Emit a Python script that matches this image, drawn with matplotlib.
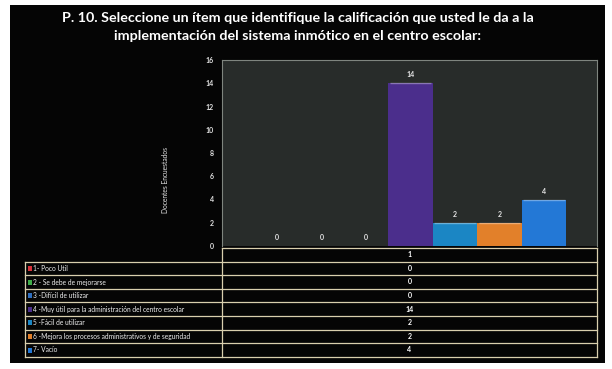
import matplotlib
matplotlib.use('Agg')
import matplotlib.pyplot as plt
from matplotlib.patches import Rectangle

plt.rcParams['font.family'] = ['Lato', 'DejaVu Sans']

titulo = ('P. 10. Seleccione un ítem que identifique la calificación que usted le da a la\n'
          'implementación del sistema inmótico en el centro escolar:')
categorias = ['1- Poco Util',
              '2 - Se debe de mejorarse',
              '3 -Difícil de utilizar',
              '4 -Muy útil para la administración del centro escolar',
              '5 -Fácil de utilizar',
              '6 -Mejora los procesos administrativos y de seguridad',
              '7- Vacío']
valores = [0, 0, 0, 14, 2, 2, 4]
colores = ['#d8323a', '#3fae49', '#2f6fc0', '#4b2e8c', '#1b86c4', '#e2802a', '#2378d6']
grupo = '1'
eje_y = 'Docentes Encuestados'

W, H = 612, 369
fig = plt.figure(figsize=(W / 100, H / 100), dpi=100, facecolor='white')

# lienzo en pixeles para fondo, titulo y tabla
bg = fig.add_axes([0, 0, 1, 1])
bg.set_xlim(0, W)
bg.set_ylim(H, 0)
bg.axis('off')
bg.add_patch(Rectangle((10, 5), 595, 358, facecolor='#050505', edgecolor='none'))

bg.text(298, 27, titulo, ha='center', va='center', color='white',
        fontsize=10.3, fontweight='bold', linespacing=1.5)
bg.text(165, 180, eje_y, rotation=90, ha='center', va='center',
        color='#e8e8e8', fontsize=4.8)

# tabla de datos debajo del grafico
lineas = '#d9cfae'
x0, xm, x1 = 25, 222, 597
y_top, fila = 248, 13.6
filas = len(categorias) + 1
for i in range(filas + 1):
    y = y_top + i * fila
    bg.plot([x0 if i >= 1 else xm, x1], [y, y], color=lineas, lw=0.9)
bg.plot([xm, xm], [y_top, y_top + filas * fila], color=lineas, lw=0.9)
bg.plot([x1, x1], [y_top, y_top + filas * fila], color=lineas, lw=0.9)
bg.plot([x0, x0], [y_top + fila, y_top + filas * fila], color=lineas, lw=0.9)

bg.text((xm + x1) / 2, y_top + fila / 2, grupo, ha='center', va='center',
        color='white', fontsize=5, fontweight='bold')
for i, (cat, val, col) in enumerate(zip(categorias, valores, colores)):
    yc = y_top + (i + 1.5) * fila
    bg.add_patch(Rectangle((27.5, yc - 2.5), 4, 5, facecolor=col, edgecolor='none'))
    bg.text(33, yc, cat, ha='left', va='center', color='#f0f0f0', fontsize=4.75)
    bg.text((xm + x1) / 2, yc, str(val), ha='center', va='center',
            color='white', fontsize=5, fontweight='bold')

# grafico de barras
ax = fig.add_axes([222 / W, 1 - 246 / H, 375 / W, 186 / H])
ax.set_facecolor('#282c2a')
x = list(range(len(valores)))
barras = ax.bar(x, valores, width=1.0, color=colores, edgecolor='none')
for b, v in zip(barras, valores):
    if v > 0:
        # borde superior mas claro de cada barra
        ax.plot([b.get_x() + 0.03, b.get_x() + b.get_width() - 0.03], [v, v],
                color='white', alpha=0.35, lw=1.0, solid_capstyle='butt')
for xi, v in zip(x, valores):
    ax.annotate(str(v), (xi, v), xytext=(0, 6), textcoords='offset points',
                ha='center', va='center', color='#e6e6e6', fontsize=5,
                fontweight='bold')
ax.set_xlim(-1.236, 7.19)
ax.set_ylim(0, 16)
ax.set_yticks(range(0, 17, 2))
ax.set_xticks([])
ax.tick_params(axis='y', length=0, pad=6, labelsize=5, labelcolor='#e0e0e0')
for lab in ax.get_yticklabels():
    lab.set_fontweight('bold')
for s in ax.spines.values():
    s.set_color('#7f857f')
    s.set_linewidth(0.8)
ax.spines['bottom'].set_visible(False)

fig.savefig('out.png', dpi=100, facecolor=fig.get_facecolor())
